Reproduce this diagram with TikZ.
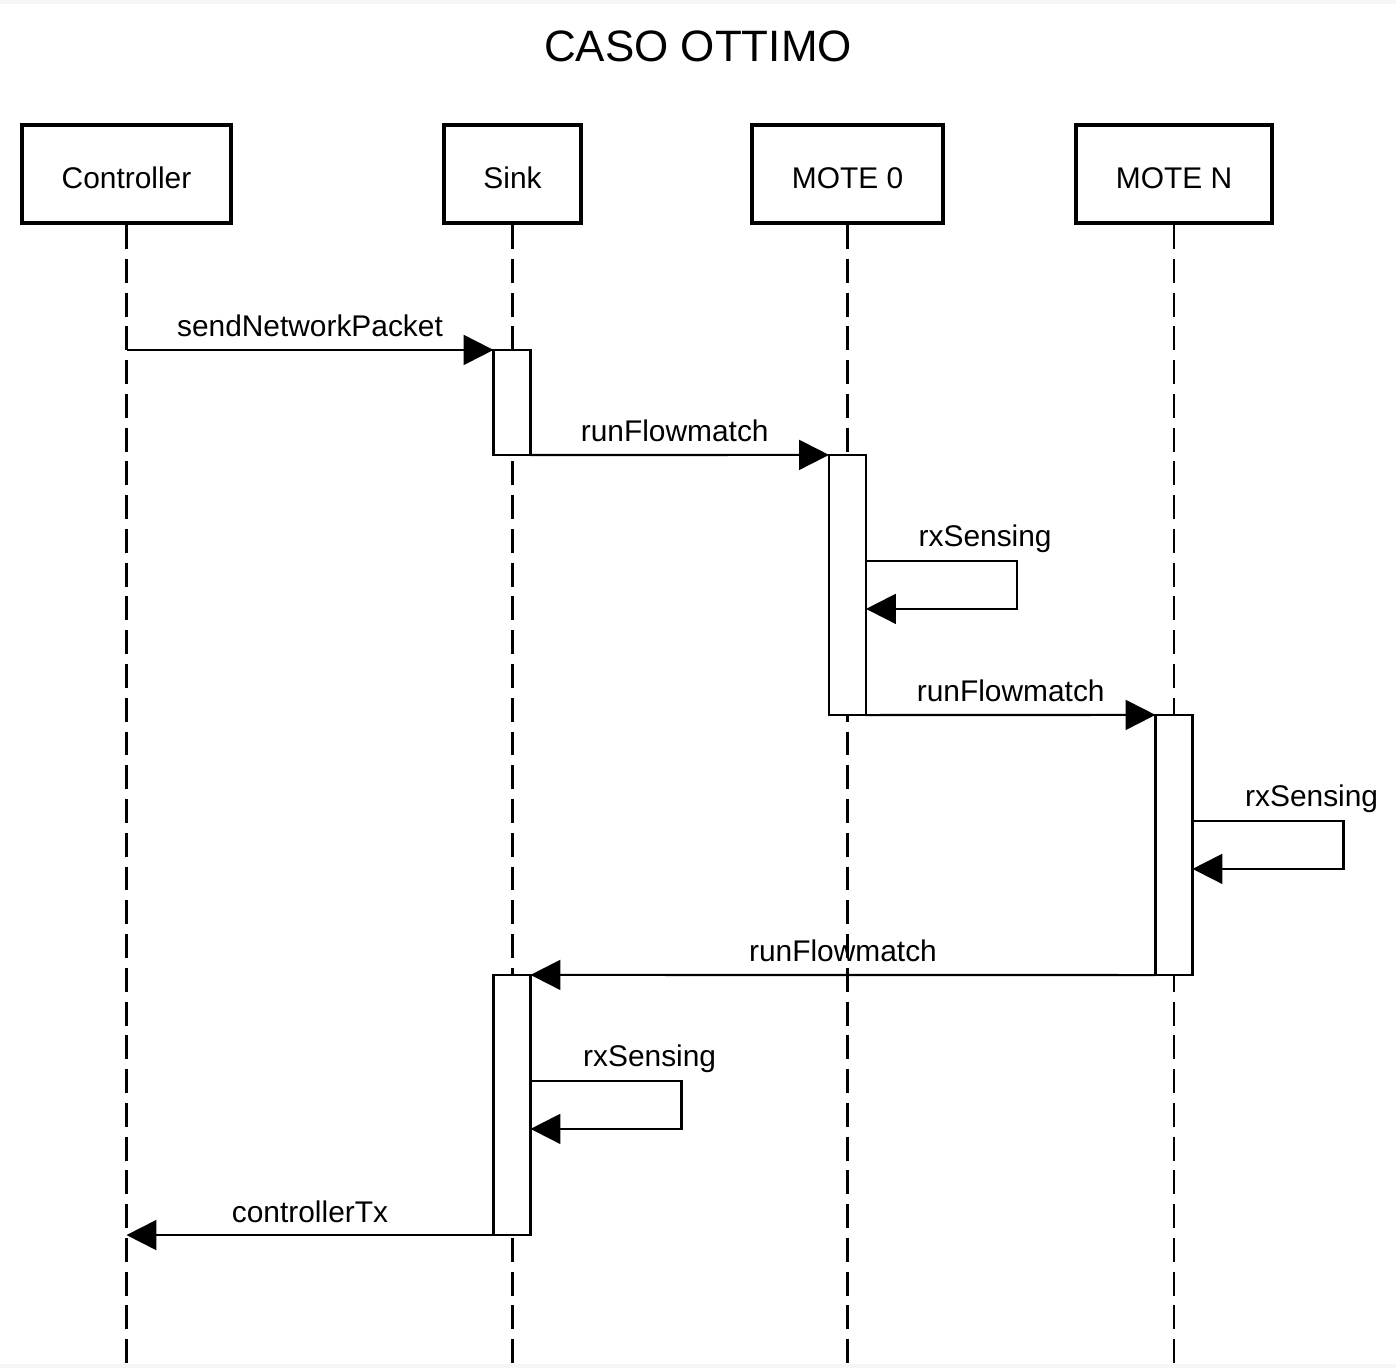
\documentclass[tikz,border=0pt]{standalone}
\usepackage{fontspec}
\setmainfont{Liberation Sans}
\usetikzlibrary{positioning}
\usetikzlibrary{arrows.meta,calc}

\tikzset{
  actor/.style={draw, line width=1.2pt, minimum height=0.98cm, inner sep=0pt,
    font=\fontsize{8.5}{10}\selectfont, text height=0.3cm, text depth=0pt},
  lifeline/.style={line width=0.6pt, dash pattern=on 6.8pt off 2.8pt},
  actbox/.style={draw, fill=white, line width=0.6pt, minimum width=0.37cm, inner sep=0pt, outer sep=0pt},
  msg/.style={line width=0.6pt, -{Triangle[length=8.5pt,width=8.5pt]}},
  lbl/.style={font=\fontsize{8.5}{10}\selectfont, inner sep=0pt}
}

\begin{document}
\begin{tikzpicture}[x=0.01cm,y=-0.01cm]
\useasboundingbox (0,0) rectangle (1396,1368);
\fill[gray!7] (0,0) rectangle (1396,1368);
\fill[white] (0,4) rectangle (1396,1364);

\node[font=\fontsize{12.5}{15}\selectfont] (title) at (698,46) {CASO OTTIMO};

% lifeline heads
\node[actor, minimum width=2.09cm] (ctrl) at (126.5,174) {Controller};
\node[actor, minimum width=1.37cm] (sink) at (512.5,174) {Sink};
\node[actor, minimum width=1.91cm] (mote0) at (847.5,174) {MOTE 0};
\node[actor, minimum width=1.96cm] (moteN) at (1174,174) {MOTE N};

\coordinate (bottom) at (0,1368);
\foreach \a in {ctrl,sink,mote0,moteN}
  \draw[lifeline] (\a.south) -- (\a.south |- bottom);

% activations
\node[actbox, minimum height=1.05cm] (actA) at (512,402.5) {};
\node[actbox, minimum height=2.6cm] (actC) at (847.5,585) {};
\node[actbox, minimum height=2.6cm] (actD) at (1174,845) {};
\node[actbox, minimum height=2.6cm] (actE) at (512,1105) {};

% messages
\draw[msg] (ctrl.south |- actA.north west) -- node[lbl, anchor=base, yshift=0.13cm] {sendNetworkPacket} (actA.north west);
\draw[msg] (actA.south east) -- node[lbl, anchor=base, yshift=0.13cm, xshift=-0.05cm] {runFlowmatch} (actC.north west);
\draw[msg] (actC.south east) -- node[lbl, anchor=base, yshift=0.13cm] {runFlowmatch} (actD.north west);
\draw[msg] (actD.south west) -- node[lbl, anchor=base, yshift=0.13cm] {runFlowmatch} (actE.north east);
\draw[msg] (actE.south west) -- node[lbl, anchor=base, yshift=0.13cm] {controllerTx} (ctrl.south |- actE.south west);

% self calls
\foreach \b in {actC,actD,actE}{
  \coordinate (\b-s) at ($(\b.north east)+(0,106)$);
  \node[lbl, anchor=base west] at ($(\b-s)+(52,-14)$) {rxSensing};
  \draw[msg] (\b-s) -- ++(151,0) -- ++(0,48) -- ++(-151,0);
}
\end{tikzpicture}
\end{document}
